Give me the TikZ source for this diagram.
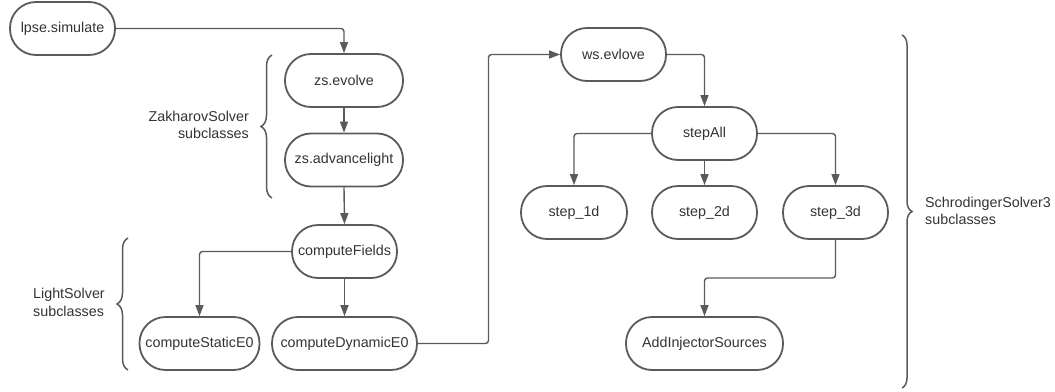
\documentclass[tikz,border=0pt]{standalone}
\usepackage{fontspec}
\setmainfont{Liberation Sans}
\usetikzlibrary{arrows.meta,decorations.pathreplacing}
\definecolor{linegray}{HTML}{5A5A5A}
\definecolor{textgray}{HTML}{333333}
\tikzset{
  box/.style={draw=linegray, line width=1.8pt, rounded corners=26pt, minimum height=53pt,
    inner sep=0pt, text=textgray, font=\fontsize{14.3}{17}\selectfont},
  arr/.style={draw=linegray, line width=1.4pt, rounded corners=3pt,
    -{Triangle[length=11pt,width=8pt]}},
  bracedeco/.style={draw=linegray, line width=1.5pt,
    decorate, decoration={brace, amplitude=11pt}},
  lbl/.style={text=textgray, font=\fontsize{14.3}{17.5}\selectfont, inner sep=0pt}
}
\begin{document}
\begin{tikzpicture}[x=1pt,y=-1pt]
\useasboundingbox (0,0) rectangle (1055,391);
% nodes
\node[box, minimum width=105pt] (lpse) at (62.5,28.5) {lpse.simulate};
\node[box, minimum width=118pt] (zsev) at (344,80.5) {zs.evolve};
\node[box, minimum width=118pt] (zsadv) at (344,160) {zs.advancelight};
\node[box, minimum width=105pt] (cf) at (344.5,251.5) {computeFields};
\node[box, minimum width=120pt] (cs) at (199.5,343.5) {computeStaticE0};
\node[box, minimum width=145pt] (cd) at (344.5,343.5) {computeDynamicE0};
\node[box, minimum width=105pt] (ws) at (613.5,54.5) {ws.evlove};
\node[box, minimum width=105pt] (sa) at (704.5,133.5) {stepAll};
\node[box, minimum width=106pt] (s1) at (574,212.5) {step\_1d};
\node[box, minimum width=105pt] (s2) at (704.5,212.5) {step\_2d};
\node[box, minimum width=105pt] (s3) at (835.5,212.5) {step\_3d};
\node[box, minimum width=157pt] (inj) at (704.5,343.5) {AddInjectorSources};
% bend coordinates
\coordinate (cdturn) at (488.5,343.5);
\coordinate (s3turn) at (835.5,278);
% connectors
\draw[arr] (lpse.east) -| (zsev.north);
\draw[arr] (zsev.south) -- (zsadv.north);
\draw[arr] (zsadv.south) -- (cf.north);
\draw[arr] (cf.west) -| (cs.north);
\draw[arr] (cf.south) -- (cd.north);
\draw[arr] (cd.east) -- (cdturn) |- (ws.west);
\draw[arr] (ws.east) -| (sa.north);
\draw[arr] (sa.west) -| (s1.north);
\draw[arr] (sa.south) -- (s2.north);
\draw[arr] (sa.east) -| (s3.north);
\draw[arr] (s3.south) -- (s3turn) -| (inj.north);
% braces
\coordinate (zbA) at (272,198);
\coordinate (zbB) at (272,55);
\draw[bracedeco] (zbA) -- (zbB);
\coordinate (lbA) at (128,370);
\coordinate (lbB) at (128,238);
\draw[bracedeco] (lbA) -- (lbB);
\coordinate (sbA) at (902,35);
\coordinate (sbB) at (902,388);
\draw[bracedeco, decoration={brace, amplitude=10pt}] (sbA) -- (sbB);
% labels
\node[lbl, anchor=east, align=right] (zl) at (249,125) {ZakharovSolver\\subclasses};
\node[lbl, anchor=west, align=left] (ll) at (33,302.5) {LightSolver\\subclasses};
\node[lbl, anchor=west, align=left] (sl) at (925,211) {SchrodingerSolver3\\subclasses};
\end{tikzpicture}
\end{document}
